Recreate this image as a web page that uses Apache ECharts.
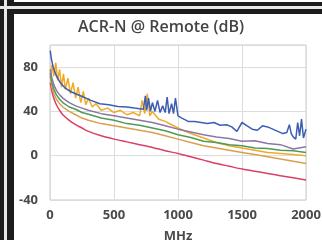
<!DOCTYPE html>
<html>
<head>
<meta charset="utf-8">
<script src="https://cdn.jsdelivr.net/npm/echarts@6/dist/echarts.min.js"></script>
<style>
html,body{margin:0;padding:0;background:#fff;}
#chart{width:322px;height:240px;}
</style>
</head>
<body>
<div id="chart"></div>
<script>
// x axis ticks (MHz) and y ticks (dB)
var xTicks = [0, 500, 1000, 1500, 2000];
var yTicks = [-40, 0, 40, 80];

// shared frequencies for the smoother curves
var freqA = [2, 15, 30, 50, 75, 100, 150, 200, 250, 300, 400, 500, 600, 700, 800, 900, 1000, 1100, 1200, 1300, 1400, 1500, 1600, 1700, 1800, 1900, 2000];
var redVals    = [66, 58, 52, 46, 41, 37, 32, 28, 25, 22, 18, 15, 12.5, 10, 7.5, 4.5, 2, -1, -4, -7, -9.5, -12, -14, -16, -18, -20, -22];
var orangeVals = [72, 62, 56, 51, 47, 44, 40, 37, 34, 32, 29, 27, 25, 23, 21, 18, 15, 12, 9, 7, 5, 3, 1, -1, -3, -5, -7];
var greenVals  = [75, 66, 60, 55, 51, 48, 44, 42, 39, 37.5, 34, 32, 29, 27.5, 25, 22.5, 19, 16.5, 13, 12, 10, 9, 7, 6.5, 5, 4.5, 3];
var purpleVals = [78, 70, 64, 59, 55, 52, 48, 45, 43, 41, 38, 36, 34, 32, 30, 27, 24, 21.5, 19, 17, 15.5, 13, 13.5, 11, 10, 6, 8];

// noisy blue trace
var blueFreq = [2, 10, 25, 50, 80, 120, 160, 200, 260, 320, 390, 460, 530, 600, 660, 700, 730, 745, 755, 770, 785, 800, 820, 840, 860, 880, 900, 915, 930, 950, 965, 980, 1000, 1030, 1080, 1130, 1180, 1230, 1280, 1330, 1380, 1420, 1460, 1500, 1540, 1580, 1620, 1660, 1700, 1740, 1780, 1820, 1850, 1870, 1885, 1900, 1920, 1935, 1950, 1965, 1980, 2000];
var blueVals = [95, 88, 80, 72, 66, 61, 58, 56, 53, 50, 47, 46, 44.5, 44, 43, 42.5, 42, 54, 41, 52, 40, 48, 40, 50, 39, 45, 39, 53, 38, 47, 38, 52, 36, 34, 31, 31, 30, 29, 30, 27.5, 28, 26, 22, 30, 27, 24, 23, 27, 26, 24, 22, 20, 21, 28, 20, 17, 15, 30, 18, 33, 16, 24];

// noisy yellow trace
var yellowFreq = [2, 15, 30, 45, 60, 75, 90, 105, 120, 140, 160, 180, 200, 220, 240, 260, 280, 300, 330, 360, 400, 450, 500, 550, 600, 650, 700, 720, 740, 760, 780, 800, 850, 900, 950, 1000, 1100, 1200, 1300, 1400, 1500, 1600, 1700, 1800, 1900, 2000];
var yellowVals = [70, 82, 72, 84, 68, 78, 62, 74, 60, 70, 56, 66, 52, 62, 48, 58, 46, 52, 44, 47, 41, 43, 39, 41, 37, 39, 36, 50, 38, 56, 36, 40, 33, 31, 28, 25, 20, 16, 12, 9, 7, 5, 3, 2, 1, 0];

function pairs(xs, ys) {
	var out = [];
	for (var i = 0; i < xs.length; i++) out.push([xs[i], ys[i]]);
	return out;
}

function line(name, xs, ys, color, smooth) {
	return {
		name: name, type: 'line', data: pairs(xs, ys),
		showSymbol: false, smooth: smooth ? 0.3 : false,
		lineStyle: {color: color, width: 1.5},
		silent: true
	};
}

var labelStyle = {color: '#4a4a4a', fontSize: 13, fontWeight: 'bold', fontFamily: 'Open Sans'};

var chart = echarts.init(document.getElementById('chart'), null, {renderer: 'canvas'});
chart.setOption({
	animation: false,
	backgroundColor: '#fff',
	title: {
		text: 'ACR-N @ Remote (dB)', left: 'center', top: 19, padding: 0,
		textStyle: {color: '#444', fontSize: 16, fontWeight: 600, fontFamily: 'Open Sans'}
	},
	grid: {left: 50, right: 16, top: 45, bottom: 40, show: true, borderColor: '#c8c8c8', borderWidth: 1,
		containLabel: false, outerBoundsMode: 'none'},
	xAxis: {
		type: 'value', min: 0, max: 2000, interval: 500,
		name: 'MHz', nameLocation: 'middle', nameGap: 30,
		nameTextStyle: labelStyle,
		axisLine: {show: false}, axisTick: {show: false},
		axisLabel: Object.assign({margin: 9, formatter: function (v) { return xTicks.indexOf(v) >= 0 ? String(v) : ''; }}, labelStyle),
		splitLine: {lineStyle: {color: '#dcdcdc'}}
	},
	yAxis: {
		type: 'value', min: -40, max: 100, interval: 40,
		axisLine: {show: false}, axisTick: {show: false},
		axisLabel: Object.assign({margin: 12, formatter: function (v) { return yTicks.indexOf(v) >= 0 ? String(v) : ''; }}, labelStyle),
		splitLine: {lineStyle: {color: '#dcdcdc'}}
	},
	series: [
		line('red', freqA, redVals, '#dc3f66', true),
		line('orange', freqA, orangeVals, '#d9a050', false),
		line('yellow', yellowFreq, yellowVals, '#f0aa28', false),
		line('green', freqA, greenVals, '#4f9a58', false),
		line('purple', freqA, purpleVals, '#8a78a6', false),
		line('blue', blueFreq, blueVals, '#3d5fb3', false)
	],
	graphic: [
		{type: 'rect', shape: {x: 0, y: 0, width: 14, height: 240}, style: {fill: '#1c1c1c'}},
		{type: 'rect', shape: {x: 0, y: 2, width: 322, height: 12}, style: {fill: '#1c1c1c'}},
		{type: 'rect', shape: {x: 4, y: 0, width: 3, height: 240}, style: {fill: '#e8e8e8'}},
		{type: 'rect', shape: {x: 0, y: 6, width: 322, height: 3}, style: {fill: '#e8e8e8'}}
	]
});
</script>
</body>
</html>
